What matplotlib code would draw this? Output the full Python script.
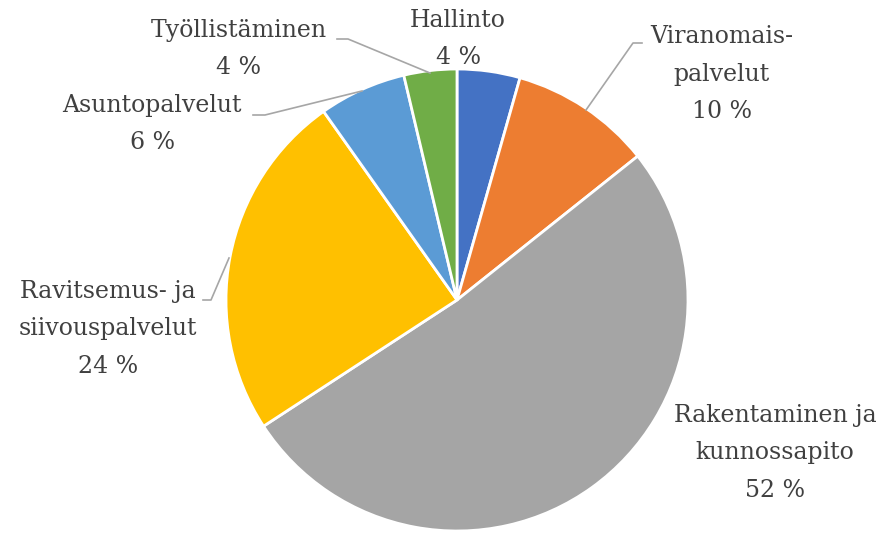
import matplotlib.pyplot as plt

labels = ["Hallinto", "Viranomais-\npalvelut", "Rakentaminen ja\nkunnossapito",
          "Ravitsemus- ja\nsiivouspalvelut", "Asuntopalvelut", "Työllistäminen"]
shares = [4.4, 9.9, 51.5, 24.4, 6.1, 3.7]
colors = ["#4472C4", "#ED7D31", "#A5A5A5", "#FFC000", "#5B9BD5", "#70AD47"]

W, H = 883, 536
plt.rcParams['font.family'] = ['DejaVu Serif']

fig = plt.figure(figsize=(W / 100, H / 100), dpi=100)
ax = fig.add_axes([0, 0, 1, 1])

def py(y):
    # pixel row (from top) -> data y
    return H - y

ax.pie(shares, colors=colors, startangle=90, counterclock=False,
       center=(457, py(300)), radius=231, frame=True,
       wedgeprops=dict(edgecolor='white', linewidth=2))
ax.set_xlim(0, W)
ax.set_ylim(0, H)
ax.set_aspect('equal')
ax.axis('off')

# label positions (centre of text block, pixel coords) and leader lines
label_pos = [(458, 39), (722, 74), (775, 453), (108, 329), (152, 124), (239, 49)]
leaders = [None,
           [(642, 43), (633, 43), (586, 110)],
           None,
           [(203, 300), (211, 300), (229, 258)],
           [(253, 115), (265, 115), (362, 91)],
           [(337, 39), (348, 39), (430, 73)]]

for lab, val, (x, y), lead in zip(labels, shares, label_pos, leaders):
    ax.text(x, py(y), f"{lab}\n{round(val)} %", ha='center', va='center',
            fontsize=17, color='#404040', linespacing=1.8)
    if lead:
        ax.plot([p[0] for p in lead], [py(p[1]) for p in lead],
                color='#A6A6A6', linewidth=1.2)

fig.savefig("out.png", dpi=100)
